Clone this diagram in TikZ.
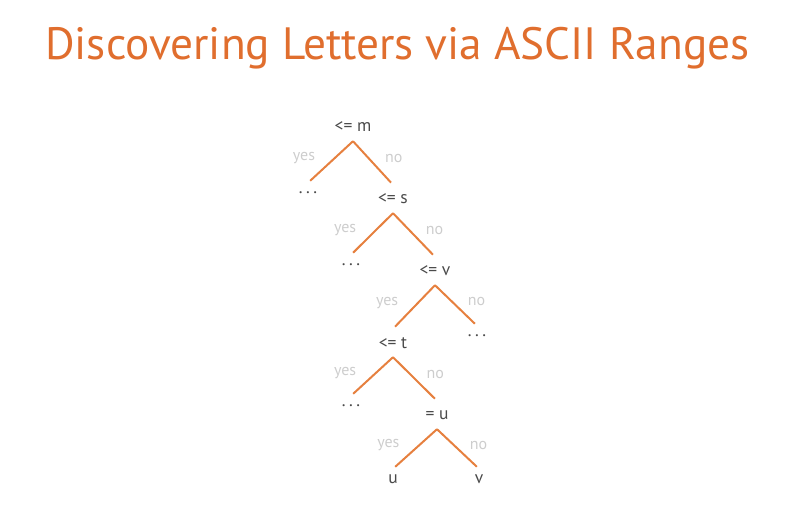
\documentclass[tikz,border=0pt]{standalone}
\usepackage{fontspec}
\setmainfont{PT Sans}
\usetikzlibrary{positioning}
\definecolor{titleorange}{HTML}{E06E2E}
\definecolor{edgeorange}{HTML}{E6803F}
\definecolor{labelgray}{HTML}{4A4A4A}
\definecolor{answergray}{HTML}{CDCDCD}
\newcommand{\gap}{.\kern3.5pt.\kern3.5pt.}

\begin{document}
\begin{tikzpicture}[
  x=1pt, y=-1pt,
  q/.style={font=\fontsize{17.5}{20}\selectfont, text=labelgray, inner sep=0pt,
            minimum height=28pt},
  leaf/.style={font=\fontsize{17.5}{20}\selectfont, text=labelgray, inner sep=0pt,
            minimum height=20pt},
  br/.style={edgeorange, line width=2pt, shorten >=3pt},
  yes/.style={font=\fontsize{16}{18}\selectfont, text=answergray, inner sep=0pt,
            pos=.4, anchor=east, xshift=-19pt},
  no/.style={font=\fontsize{16}{18}\selectfont, text=answergray, inner sep=0pt,
            pos=.4, anchor=west, xshift=15pt}
]
\useasboundingbox (0,0) rectangle (799,517);
\node[anchor=base west, inner sep=0pt, text=titleorange,
      font=\fontsize{45.3}{50}\selectfont] (title) at (45,59)
  {Discovering Letters via ASCII Ranges};

% decisions
\node[q] (m) at (353,127) {<= m};
\node[q] (s) at (393,199) {<= s};
\node[q] (v) at (435,271) {<= v};
\node[q] (t) at (393,343) {<= t};
\node[q] (u) at (437,415) {= u};
% leaves
\node[leaf] (d1) at (308,193) {\gap};
\node[leaf] (d2) at (351,265) {\gap};
\node[leaf] (d3) at (477,336) {\gap};
\node[leaf] (d4) at (351,406) {\gap};
\node[leaf] (lu) at (393,479) {u};
\node[leaf] (lv) at (479,479) {v};

\draw[br] (m.south) -- node[yes] {yes} (d1.north);
\draw[br] (m.south) -- node[no] {no} (s.north);
\draw[br] (s.south) -- node[yes] {yes} (d2.north);
\draw[br] (s.south) -- node[no] {no} (v.north);
\draw[br] (v.south) -- node[yes] {yes} (t.north);
\draw[br] (v.south) -- node[no] {no} (d3.north);
\draw[br] (t.south) -- node[yes] {yes} (d4.north);
\draw[br] (t.south) -- node[no] {no} (u.north);
\draw[br] (u.south) -- node[yes] {yes} (lu.north);
\draw[br] (u.south) -- node[no] {no} (lv.north);
\end{tikzpicture}
\end{document}
